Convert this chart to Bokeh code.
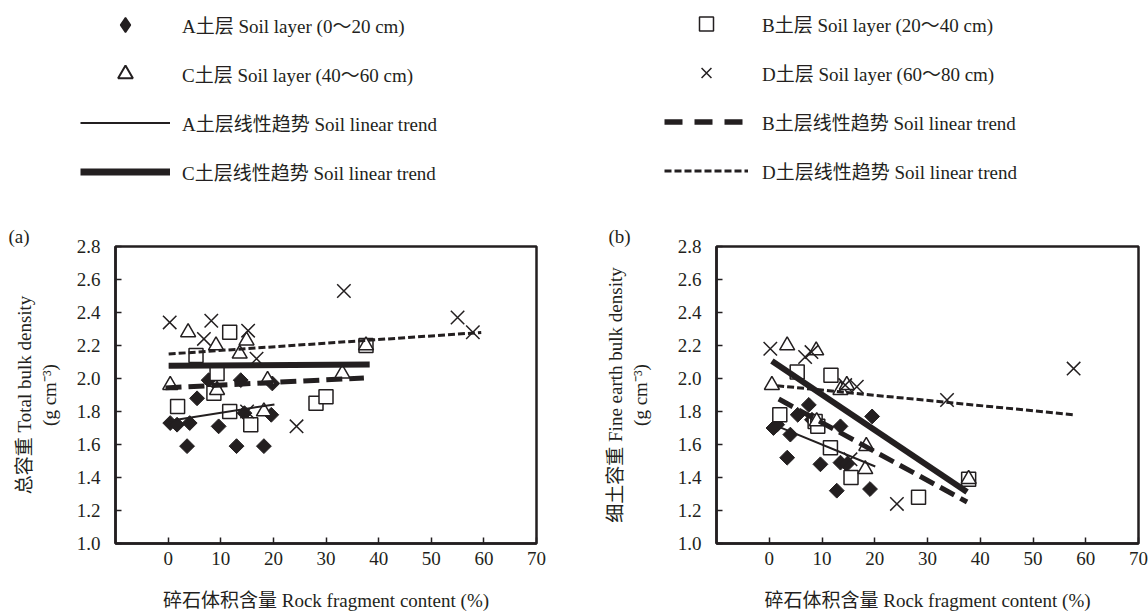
from math import pi
from bokeh.plotting import figure
from bokeh.models import ColumnDataSource, Range1d, FixedTicker, Legend, LegendItem
from bokeh.layouts import column, row
from bokeh.embed import file_html
from bokeh.resources import INLINE

FONT = "'Liberation Serif', 'Noto Sans CJK SC'"
INK = "#231f20"

# ---------------- data ----------------
x_ticks = [0, 10, 20, 30, 40, 50, 60, 70]
x_tick_labels = ["0", "10", "20", "30", "40", "50", "60", "70"]
y_ticks = [1.0, 1.2, 1.4, 1.6, 1.8, 2.0, 2.2, 2.4, 2.6, 2.8]
y_tick_labels = ["1.0", "1.2", "1.4", "1.6", "1.8", "2.0", "2.2", "2.4", "2.6", "2.8"]

series_names = ["A", "B", "C", "D"]
legend_point_labels = ["A土层 Soil layer (0～20 cm)", "B土层 Soil layer (20～40 cm)",
                       "C土层 Soil layer (40～60 cm)", "D土层 Soil layer (60～80 cm)"]
legend_trend_labels = ["A土层线性趋势 Soil linear trend", "B土层线性趋势 Soil linear trend",
                       "C土层线性趋势 Soil linear trend", "D土层线性趋势 Soil linear trend"]

x_label = "碎石体积含量 Rock fragment content (%)"
y_label_a = "总容重 Total bulk density\n(g cm⁻³)"
y_label_b = "细土容重 Fine earth bulk density\n(g cm⁻³)"

# panel (a) total bulk density
a_A_x = [0.4, 1.7, 4.1, 9.6, 3.6, 13.0, 18.2, 5.5, 7.7, 13.8, 19.8, 14.5, 19.6]
a_A_y = [1.73, 1.72, 1.73, 1.71, 1.59, 1.59, 1.59, 1.88, 1.99, 1.99, 1.97, 1.79, 1.78]
a_B_x = [1.8, 5.3, 8.7, 9.3, 11.7, 11.7, 15.7, 28.1, 30.0, 37.6]
a_B_y = [1.83, 2.14, 1.91, 2.03, 2.28, 1.80, 1.72, 1.85, 1.89, 2.20]
a_C_x = [0.4, 3.8, 9.1, 9.3, 13.6, 14.9, 18.2, 18.9, 33.1, 37.6]
a_C_y = [1.96, 2.28, 2.20, 1.93, 2.15, 2.23, 1.80, 1.99, 2.03, 2.20]
a_D_x = [0.3, 6.8, 8.2, 15.0, 15.2, 16.8, 24.4, 33.4, 55.0, 57.9]
a_D_y = [2.34, 2.24, 2.35, 1.80, 2.29, 2.12, 1.71, 2.53, 2.37, 2.28]

# panel (b) fine earth bulk density
b_A_x = [0.8, 1.5, 3.4, 4.0, 5.4, 7.5, 8.1, 9.7, 12.8, 13.5, 13.5, 14.7, 19.1, 19.5]
b_A_y = [1.70, 1.72, 1.52, 1.66, 1.78, 1.84, 1.75, 1.48, 1.32, 1.71, 1.49, 1.48, 1.33, 1.77]
b_B_x = [2.0, 5.3, 8.7, 9.2, 11.6, 11.7, 15.5, 28.3, 37.8]
b_B_y = [1.78, 2.04, 1.74, 1.71, 1.58, 2.02, 1.40, 1.28, 1.39]
b_C_x = [0.5, 3.4, 8.9, 9.0, 13.5, 14.7, 18.2, 18.4, 37.8]
b_C_y = [1.96, 2.20, 2.17, 1.74, 1.93, 1.96, 1.45, 1.59, 1.39]
b_D_x = [0.2, 6.8, 8.0, 14.4, 15.4, 16.6, 24.2, 33.7, 57.7]
b_D_y = [2.18, 2.13, 2.16, 1.96, 1.51, 1.95, 1.24, 1.87, 2.06]

# linear trends (intercept, slope, x start, x end) for A, B, C, D
a_trend_intercept = [1.742, 1.944, 2.077, 2.148]
a_trend_slope = [0.0050, 0.0016, 0.0002, 0.0022]
a_trend_xstart = [0.1, -0.5, 0.1, 0.1]
a_trend_xend = [20.2, 37.2, 38.3, 59.5]

b_trend_intercept = [1.731, 1.907, 2.117, 1.961]
b_trend_slope = [-0.01316, -0.01748, -0.02146, -0.00313]
b_trend_xstart = [0.8, 1.8, 0.5, 1.5]
b_trend_xend = [20.1, 37.5, 37.5, 57.7]

# ---------------- styles ----------------
point_style = {
    "A": dict(marker="square", angle=pi / 4, size=10.5, fill_color=INK, line_color=INK, line_width=1),
    "B": dict(marker="square", size=14, fill_color="white", line_color=INK, line_width=1.5),
    "C": dict(marker="triangle", size=15, fill_color="white", line_color=INK, line_width=1.5),
    "D": dict(marker="x", size=19, line_color=INK, line_width=1.5),
}
# legend glyphs are drawn unrotated, so the diamond uses Bokeh's own diamond marker
legend_point_style = dict(point_style)
legend_point_style["A"] = dict(marker="diamond", size=14, fill_color=INK, line_color=INK, line_width=1.5)
legend_point_style["C"] = dict(marker="triangle", size=14, fill_color="white", line_color=INK, line_width=2)

trend_style = {
    "A": dict(line_width=2, line_dash="solid"),
    "B": dict(line_width=5, line_dash="16 7"),
    "C": dict(line_width=6, line_dash="solid"),
    "D": dict(line_width=3, line_dash="7 3"),
}
legend_trend_style = {
    "A": dict(line_width=2, line_dash="solid"),
    "B": dict(line_width=5.5, line_dash="18 12"),
    "C": dict(line_width=7, line_dash="solid"),
    "D": dict(line_width=3, line_dash="7 3"),
}

PLOT_H = 405


def make_panel(tag, ylabel, pts, trends, width, border_left, border_right, title_offset, ylabel_standoff):
    p = figure(width=width, height=PLOT_H, x_range=Range1d(-10, 70), y_range=Range1d(1.0, 2.8),
               output_backend="svg", toolbar_location=None,
               min_border_left=border_left, min_border_right=border_right,
               min_border_top=38, min_border_bottom=68)
    p.grid.visible = False
    p.background_fill_color = "white"
    p.border_fill_color = "white"
    p.outline_line_color = INK
    p.outline_line_width = 2.5
    p.outline_line_alpha = 1

    p.title.text = tag
    p.title.align = "left"
    p.title.offset = title_offset
    p.title.standoff = 0
    p.title.text_font = FONT
    p.title.text_font_size = "19px"
    p.title.text_font_style = "normal"
    p.title.text_color = INK

    for ax in (p.xaxis[0], p.yaxis[0]):
        ax.axis_line_color = INK
        ax.axis_line_width = 2.5
        ax.major_tick_line_color = INK
        ax.major_tick_line_width = 1.5
        ax.major_tick_in = 6
        ax.major_tick_out = 0
        ax.minor_tick_in = 0
        ax.minor_tick_out = 0
        ax.major_label_text_font = FONT
        ax.major_label_text_font_size = "19px"
        ax.major_label_text_color = INK
        ax.axis_label_text_font = FONT
        ax.axis_label_text_font_size = "19px"
        ax.axis_label_text_font_style = "normal"
        ax.axis_label_text_color = INK

    p.xaxis.ticker = FixedTicker(ticks=x_ticks)
    p.xaxis.major_label_overrides = {t: l for t, l in zip(x_ticks, x_tick_labels)}
    p.xaxis.major_label_standoff = 8
    p.xaxis.axis_label = x_label
    p.xaxis.axis_label_standoff = 22

    p.yaxis.ticker = FixedTicker(ticks=y_ticks)
    p.yaxis.major_label_overrides = {t: l for t, l in zip(y_ticks, y_tick_labels)}
    p.yaxis.major_label_standoff = 15
    p.yaxis.axis_label = ylabel
    p.yaxis.axis_label_standoff = ylabel_standoff

    for name, (xs, ys) in zip(series_names, pts):
        src = ColumnDataSource(dict(x=xs, y=ys))
        p.scatter(x="x", y="y", source=src, **point_style[name])

    intercepts, slopes, xs0, xs1 = trends
    for i, name in enumerate(series_names):
        tx = [xs0[i], xs1[i]]
        ty = [intercepts[i] + slopes[i] * x for x in tx]
        p.line(x=tx, y=ty, line_color=INK, **trend_style[name])
    return p


pa = make_panel("(a)", y_label_a,
                [(a_A_x, a_A_y), (a_B_x, a_B_y), (a_C_x, a_C_y), (a_D_x, a_D_y)],
                (a_trend_intercept, a_trend_slope, a_trend_xstart, a_trend_xend),
                width=598, border_left=115, border_right=62, title_offset=-107, ylabel_standoff=14)
pb = make_panel("(b)", y_label_b,
                [(b_A_x, b_A_y), (b_B_x, b_B_y), (b_C_x, b_C_y), (b_D_x, b_D_y)],
                (b_trend_intercept, b_trend_slope, b_trend_xstart, b_trend_xend),
                width=550, border_left=118, border_right=10, title_offset=-108, ylabel_standoff=24)

# ---------------- legend strip ----------------
leg = figure(width=1148, height=208, x_range=Range1d(0, 1), y_range=Range1d(0, 1),
             output_backend="svg", toolbar_location=None, x_axis_type=None, y_axis_type=None,
             min_border=0)
leg.outline_line_color = None
leg.grid.visible = False

# legend-only renderers: one point placed outside the visible range
pt_r = {n: leg.scatter(x=[-5], y=[-5], **legend_point_style[n]) for n in series_names}
tr_r = {n: leg.line(x=[-5, -4], y=[-5, -5], line_color=INK, **legend_trend_style[n]) for n in series_names}


def make_legend(items, loc, gw, gh, standoff):
    return Legend(items=items, location=loc, orientation="vertical",
                  glyph_width=gw, glyph_height=gh, label_height=20, spacing=49 - gh,
                  label_standoff=standoff, padding=0, margin=0,
                  border_line_color=None, background_fill_alpha=0,
                  label_text_font=FONT, label_text_font_size="19px", label_text_color=INK)


left_items = [LegendItem(label=legend_point_labels[0], renderers=[pt_r["A"]]),
              LegendItem(label=legend_point_labels[2], renderers=[pt_r["C"]]),
              LegendItem(label=legend_trend_labels[0], renderers=[tr_r["A"]]),
              LegendItem(label=legend_trend_labels[2], renderers=[tr_r["C"]])]
right_items = [LegendItem(label=legend_point_labels[1], renderers=[pt_r["B"]]),
               LegendItem(label=legend_point_labels[3], renderers=[pt_r["D"]]),
               LegendItem(label=legend_trend_labels[1], renderers=[tr_r["B"]]),
               LegendItem(label=legend_trend_labels[3], renderers=[tr_r["D"]])]

leg.add_layout(make_legend(left_items, (80, 18), 90, 37, 12))
leg.add_layout(make_legend(right_items, (664, 20), 84, 35, 14))

layout = column(leg, row(pa, pb, spacing=0), spacing=0)

with open("out.html", "w", encoding="utf-8") as f:
    f.write(file_html(layout, INLINE))
